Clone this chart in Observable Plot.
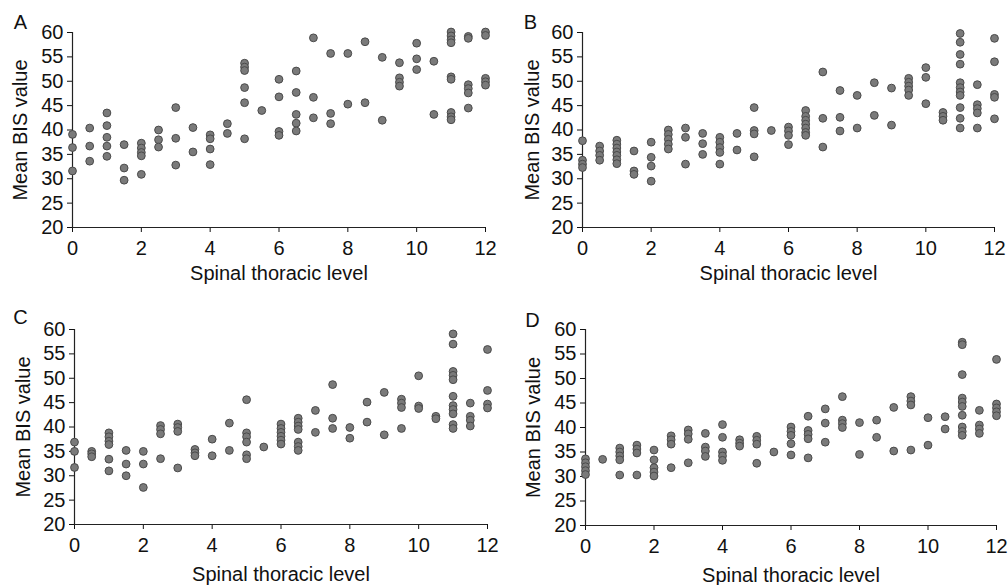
<!DOCTYPE html>
<html>
<head>
<meta charset="utf-8">
<script src="https://cdn.jsdelivr.net/npm/d3@7"></script>
<script src="https://cdn.jsdelivr.net/npm/@observablehq/plot@0.6"></script>
<style>
  html, body { margin: 0; padding: 0; background: #fff; }
  #wrap { position: relative; width: 1008px; height: 585px; overflow: hidden; }
  .panel { position: absolute; }
  svg { overflow: visible; }
</style>
</head>
<body>
<div id="wrap"></div>
<script>
const levels = [0,0.5,1,1.5,2,2.5,3,3.5,4,4.5,5,5.5,6,6.5,7,7.5,8,8.5,9,9.5,10,10.5,11,11.5,12];
const xTicks = [0,2,4,6,8,10,12];
const yTicks = [20,25,30,35,40,45,50,55,60];
const panelLetters = ["A","B","C","D"];
const xTitle = "Spinal thoracic level";
const yTitle = "Mean BIS value";

const bisA = [
  [39.1,36.4,31.6],
  [40.4,36.7,33.6],
  [43.5,40.9,38.5,36.7,34.6],
  [37.0,32.2,29.7],
  [37.3,36.3,35.4,34.7,30.9],
  [40.0,38.0,36.5],
  [44.6,38.3,32.8],
  [40.5,35.5],
  [39.0,38.2,36.1,32.9],
  [41.3,39.3],
  [53.7,52.9,52.2,48.7,45.6,38.2],
  [44.0],
  [50.4,46.8,39.7,38.9],
  [52.1,47.7,43.2,41.4,39.8],
  [58.9,46.7,42.5],
  [55.7,43.4,41.3],
  [55.7,45.3],
  [58.1,45.6],
  [54.9,42.0],
  [53.8,50.7,49.8,49.0],
  [57.8,54.6,52.4],
  [54.1,43.2],
  [60.1,59.3,58.5,57.9,50.9,50.4,43.6,42.7,42.1],
  [59.2,58.8,49.3,48.5,47.6,44.5],
  [60.1,59.4,50.6,49.9,49.2]
];
const bisB = [
  [37.8,33.8,33.0,32.3],
  [36.7,35.7,34.8,33.8],
  [37.9,37.1,36.3,35.5,34.8,33.9,33.1],
  [35.7,31.6,30.9],
  [37.5,34.4,32.6,29.5],
  [40.0,39.1,38.1,37.1,36.1],
  [40.4,38.5,33.0],
  [39.3,37.2,35.0],
  [38.5,37.5,36.4,35.4,33.0],
  [39.3,35.9],
  [44.6,39.9,39.2,34.5],
  [39.9],
  [40.6,39.8,38.9,37.0],
  [44.0,42.8,42.0,41.2,40.4,39.5,38.9],
  [51.9,42.4,36.5],
  [48.1,42.6,39.8],
  [47.1,40.4],
  [49.7,43.0],
  [48.6,41.0],
  [50.6,49.8,49.0,48.2,47.1],
  [52.8,50.8,45.4],
  [43.6,42.8,42.0],
  [59.8,58.0,55.5,53.5,49.7,48.7,47.8,47.1,44.6,42.4,40.4],
  [49.3,45.2,44.4,43.5,40.4],
  [58.8,54.0,47.3,46.7,42.3]
];
const bisC = [
  [36.9,35.0,31.7],
  [35.0,34.5,33.9],
  [38.8,38.0,37.1,36.4,33.4,31.0],
  [35.2,32.4,30.0],
  [35.0,32.4,27.6],
  [40.3,39.5,38.6,33.5],
  [40.6,39.9,39.1,31.6],
  [35.4,34.7,34.1],
  [37.5,34.1],
  [40.8,35.2],
  [45.6,38.8,38.0,36.9,34.3,33.5],
  [35.9],
  [40.6,39.7,38.9,38.1,37.3,36.5],
  [41.8,41.0,40.2,39.5,36.9,36.0,35.2],
  [43.4,38.9],
  [48.7,41.8,39.7],
  [39.9,37.7],
  [45.1,41.0],
  [47.1,38.4],
  [45.7,44.9,44.0,39.7],
  [50.5,44.3,43.8],
  [42.2,41.7],
  [59.1,57.0,51.4,50.6,49.7,46.3,44.4,43.6,42.7,40.5,39.7],
  [44.9,42.2,41.4,40.2],
  [55.9,47.5,44.7,43.9]
];
const bisD = [
  [33.6,32.8,32.0,31.2,30.4],
  [33.5],
  [35.8,35.0,34.2,33.4,30.3],
  [36.4,35.6,34.8,30.3],
  [35.4,33.4,31.8,30.9,30.1],
  [38.3,37.5,36.6,31.8],
  [39.5,38.7,37.6,32.8],
  [38.8,36.0,35.2,34.1],
  [40.6,38.0,35.0,34.2,33.3],
  [37.5,36.8,36.2],
  [38.2,37.4,36.6,32.7],
  [35.0],
  [40.1,39.2,38.4,36.7,34.4],
  [42.3,39.4,38.6,37.7,33.8],
  [43.8,40.9,37.0],
  [46.3,41.5,40.8,40.0],
  [41.0,34.5],
  [41.5,38.0],
  [44.1,35.2],
  [46.3,45.4,44.6,35.4],
  [42.0,36.4],
  [42.2,39.7],
  [57.4,56.9,50.8,46.0,45.2,44.3,42.5,40.1,39.2,38.4],
  [43.5,40.5,39.7,38.8],
  [53.9,44.8,44.0,43.2,42.4]
];
const series = [bisA, bisB, bisC, bisD];

const layouts = [
  {left:0,   top:0,   width:504, height:292, mL:72, mR:19, mT:32, mB:65, ldx:-52, ldy:-4, ydx:-52, tdy:38},
  {left:504, top:0,   width:504, height:292, mL:78, mR:14, mT:32, mB:65, ldx:-52, ldy:-4, ydx:-50, tdy:38},
  {left:0,   top:293, width:504, height:292, mL:74, mR:17, mT:36, mB:61, ldx:-54, ldy:-6, ydx:-51, tdy:42},
  {left:504, top:293, width:504, height:292, mL:81, mR:12, mT:36, mB:60, ldx:-53, ldy:-3, ydx:-52, tdy:42}
];

const font = "'Liberation Sans', Arial, Helvetica, sans-serif";
const wrap = document.getElementById("wrap");

series.forEach((vals, i) => {
  const L = layouts[i];
  const rows = [];
  vals.forEach((arr, j) => arr.forEach(v => rows.push({x: levels[j], y: v})));
  const chart = Plot.plot({
    width: L.width,
    height: L.height,
    marginLeft: L.mL, marginRight: L.mR, marginTop: L.mT, marginBottom: L.mB,
    style: {fontFamily: font, fontSize: "20px", color: "#111", background: "transparent"},
    x: {domain: [0, 12]},
    y: {domain: [20, 60]},
    marks: [
      Plot.axisX({ticks: xTicks, tickSize: 5, tickPadding: 8, label: null, fontSize: 20, stroke: "#111"}),
      Plot.axisY({ticks: yTicks, tickSize: 5, tickPadding: 4, label: null, fontSize: 20, stroke: "#111"}),
      Plot.ruleX([0], {y1: 20, y2: 60, stroke: "#222", strokeWidth: 1.2}),
      Plot.ruleY([20], {x1: 0, x2: 12, stroke: "#222", strokeWidth: 1.2}),
      Plot.dot(rows, {x: "x", y: "y", r: 3.9, fill: "#7a7a7a", stroke: "#4a4a4a", strokeWidth: 1}),
      Plot.text([xTitle], {frameAnchor: "bottom", dy: L.tdy, lineAnchor: "top", fontSize: 20, fill: "#111"}),
      Plot.text([yTitle], {frameAnchor: "left", dx: L.ydx, rotate: -90, lineAnchor: "middle", textAnchor: "middle", fontSize: 20, fill: "#111"}),
      Plot.text([panelLetters[i]], {frameAnchor: "top-left", dx: L.ldx, dy: L.ldy, lineAnchor: "bottom", textAnchor: "middle", fontSize: 20, fill: "#111"})
    ]
  });
  const div = document.createElement("div");
  div.className = "panel";
  div.style.left = L.left + "px";
  div.style.top = L.top + "px";
  div.appendChild(chart);
  wrap.appendChild(div);
});
</script>
</body>
</html>
